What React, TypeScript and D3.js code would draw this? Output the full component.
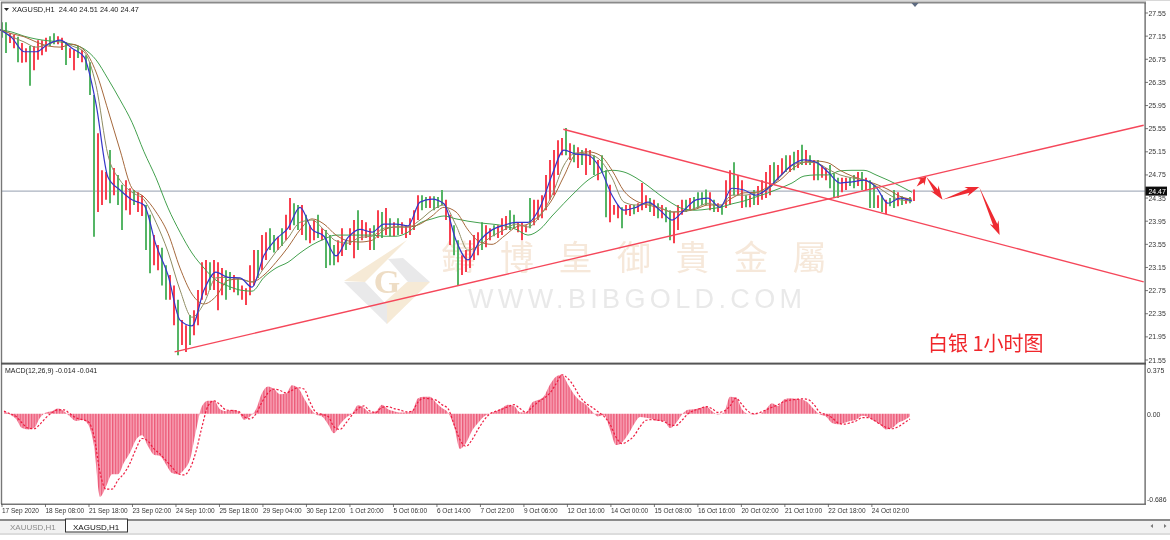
import React from "react";
import * as d3 from "d3";

const W = 1170, H = 540;
const symbolLine = "XAGUSD,H1  24.40 24.51 24.40 24.47";
const macdLabel = "MACD(12,26,9) -0.014 -0.041";
const lastPrice = 24.47;
const priceTicks = ["27.55","27.15","26.75","26.35","25.95","25.55","25.15","24.75","24.35","23.95","23.55","23.15","22.75","22.35","21.95","21.55"];
const macdTicks = [0.375, 0, -0.686];
const timeLabels = ["17 Sep 2020","18 Sep 08:00","21 Sep 18:00","23 Sep 02:00","24 Sep 10:00","25 Sep 18:00","29 Sep 04:00","30 Sep 12:00","1 Oct 20:00","5 Oct 06:00","6 Oct 14:00","7 Oct 22:00","9 Oct 06:00","12 Oct 16:00","14 Oct 00:00","15 Oct 08:00","16 Oct 16:00","20 Oct 02:00","21 Oct 10:00","22 Oct 18:00","24 Oct 02:00"];
const barsPerLabel = 32;
const lastBar = 671;

const highs = [27.39,27.39,27.20,27.17,27.14,27.03,26.94,26.98,26.98,27.08,27.08,27.12,27.15,27.20,27.15,27.12,27.05,26.94,26.91,26.98,26.91,26.82,26.70,26.13,25.47,24.83,24.80,25.18,24.87,24.75,24.58,24.66,24.52,24.49,24.45,24.40,24.23,24.06,23.71,23.54,23.49,23.19,23.02,22.84,22.59,22.24,22.15,22.33,22.41,22.76,23.24,23.28,23.24,23.28,23.24,23.14,23.10,23.07,23.02,22.97,22.84,22.79,23.19,23.45,23.45,23.71,23.76,23.83,23.71,23.68,23.83,24.06,24.35,24.26,24.23,24.23,24.06,23.88,23.97,24.06,23.83,23.80,23.71,23.54,23.62,23.83,23.62,23.83,23.97,24.14,23.97,23.93,23.83,23.88,24.14,24.11,24.18,24.00,23.93,24.00,23.93,23.88,24.00,24.14,24.40,24.40,24.37,24.38,24.38,24.37,24.49,24.32,24.06,23.88,23.62,23.36,23.45,23.62,23.71,23.76,23.93,23.88,23.83,23.88,23.88,24.00,24.04,24.14,24.06,23.93,23.93,23.88,24.35,24.32,24.32,24.40,24.75,25.01,25.18,25.35,25.39,25.56,25.30,25.27,25.23,25.18,25.21,25.18,25.09,25.01,25.09,24.83,24.58,24.23,24.23,24.19,24.23,24.23,24.23,24.26,24.61,24.40,24.35,24.32,24.26,24.23,24.19,24.14,24.11,24.23,24.32,24.32,24.35,24.37,24.45,24.45,24.50,24.45,24.32,24.26,24.23,24.66,24.83,24.97,24.75,24.66,24.40,24.40,24.49,24.56,24.66,24.80,24.92,24.97,24.92,25.04,25.09,25.09,25.15,25.18,25.27,25.18,25.09,25.01,25.01,24.92,24.87,24.92,24.78,24.70,24.70,24.70,24.70,24.75,24.80,24.80,24.70,24.66,24.58,24.40,24.40,24.32,24.35,24.49,24.45,24.38,24.35,24.37,24.50];
const lows = [27.12,26.86,27.03,26.94,26.70,26.69,26.70,26.29,26.56,26.74,26.82,26.88,26.98,27.01,27.01,26.91,26.65,26.77,26.56,26.77,26.70,26.56,26.13,23.68,24.11,24.23,24.32,24.26,24.40,24.23,23.80,24.14,24.06,24.23,24.11,24.04,23.45,23.05,23.19,23.10,22.84,22.59,22.59,22.15,21.63,21.81,21.69,21.81,21.98,22.15,22.59,22.67,22.76,22.76,22.41,22.67,22.59,22.76,22.72,22.67,22.59,22.50,22.67,22.84,22.97,23.10,23.28,23.45,23.41,23.45,23.52,23.62,23.80,23.88,23.80,23.71,23.62,23.57,23.62,23.66,23.62,23.14,23.19,23.19,23.24,23.35,23.45,23.54,23.31,23.45,23.62,23.66,23.45,23.45,23.66,23.66,23.71,23.69,23.69,23.71,23.73,23.66,23.71,23.80,23.97,24.14,24.18,24.18,24.14,24.18,24.23,23.97,23.54,23.36,22.84,23.02,23.07,23.14,23.28,23.36,23.45,23.50,23.62,23.69,23.66,23.71,23.80,23.80,23.83,23.76,23.62,23.76,23.83,23.88,23.97,24.00,24.14,24.32,24.40,24.75,25.09,25.09,25.01,24.97,24.87,24.92,24.75,24.92,24.75,24.66,24.80,24.02,23.93,24.06,24.00,23.83,24.06,24.04,24.07,24.11,24.14,24.18,24.11,24.04,24.00,24.00,23.93,23.62,23.57,23.80,24.06,24.11,24.14,24.14,24.18,24.23,24.23,24.14,24.11,24.11,24.06,24.18,24.23,24.40,24.40,24.18,24.19,24.19,24.23,24.23,24.32,24.35,24.40,24.58,24.66,24.75,24.80,24.80,24.83,24.87,24.92,24.92,24.92,24.66,24.66,24.70,24.66,24.52,24.35,24.35,24.45,24.49,24.56,24.52,24.56,24.49,24.49,24.18,24.18,24.18,24.11,24.07,24.21,24.18,24.21,24.23,24.25,24.26,24.30];
const barColors = "ggrrgrrgrr" + "rrggrrgrrg" + "rgggrrrgrg" + "grrgrrggrr" + "ggrrgrrgrr" + "rrgrrrggrg" + "rrrrgrrggr" + "grrggrgrrg" + "rgggrrgrrg" + "rrrgrgrgrg" + "rrrrrggrgg" + "grrggrrrrr" + "grrgrrrggr" + "rrgrrrrrrr" + "rgrgrgrrgr" + "ggrrrgrrgr" + "rrgrgrggrr" + "rgrggggrgr" + "grrgrrgrgr" + "rrrgrrgrgr" + "grgrgrrggg" + "rrggrgrggr" + "grggrgrgr";

const maFast = [27.26,27.12,26.88,26.88,27.01,27.08,26.94,26.79,25.98,24.71,24.49,24.32,24.23,23.54,23.02,22.24,22.14,22.76,23.07,22.98,22.97,22.81,23.36,23.64,23.83,24.19,23.81,23.69,23.35,23.67,23.81,23.76,23.90,23.90,23.87,24.28,24.33,24.25,23.62,23.28,23.62,23.80,23.88,23.93,23.93,24.19,24.75,25.18,25.11,25.09,24.87,24.40,24.14,24.19,24.28,24.14,23.97,24.14,24.32,24.35,24.19,24.52,24.49,24.40,24.52,24.73,24.92,25.01,24.97,24.80,24.61,24.63,24.66,24.54,24.26,24.35,24.30];
const maMid = [27.26,27.14,27.05,26.96,27.01,27.07,26.98,26.88,26.30,25.09,24.66,24.45,24.32,23.93,23.42,22.76,22.29,22.53,22.97,22.98,22.95,22.90,23.14,23.42,23.66,23.93,23.97,23.80,23.61,23.57,23.67,23.69,23.83,23.85,23.85,23.97,24.14,24.23,23.88,23.45,23.54,23.69,23.80,23.90,23.85,24.04,24.40,24.92,25.13,25.11,25.01,24.70,24.28,24.23,24.25,24.18,24.11,24.12,24.18,24.26,24.21,24.40,24.40,24.44,24.50,24.71,24.91,24.97,24.96,24.85,24.75,24.70,24.66,24.56,24.42,24.32,24.30];
const maSlow = [27.26,27.19,27.14,27.05,26.98,26.96,27.01,26.91,26.53,25.87,25.18,24.52,24.37,24.11,23.74,23.14,22.69,22.52,22.65,22.93,22.95,22.90,23.02,23.24,23.50,23.80,23.99,23.90,23.71,23.61,23.59,23.62,23.80,23.85,23.85,23.90,24.04,24.19,24.11,23.80,23.59,23.55,23.69,23.85,23.90,24.06,24.32,24.73,25.11,25.15,25.09,24.83,24.47,24.30,24.23,24.18,24.11,24.12,24.16,24.23,24.23,24.35,24.44,24.45,24.54,24.66,24.85,24.97,24.99,24.96,24.83,24.73,24.66,24.59,24.50,24.38,24.33];
const maLong = [27.26,27.22,27.15,27.10,27.07,27.05,27.01,26.93,26.74,26.41,26.05,25.66,25.15,24.70,24.18,23.76,23.40,23.14,22.93,22.83,22.76,22.74,22.98,23.14,23.24,23.40,23.54,23.64,23.71,23.71,23.71,23.71,23.69,23.69,23.76,23.92,23.99,24.04,23.99,23.95,23.92,23.90,23.87,23.81,23.71,23.81,24.04,24.26,24.47,24.66,24.78,24.83,24.80,24.70,24.56,24.40,24.26,24.16,24.14,24.16,24.19,24.25,24.30,24.37,24.44,24.52,24.61,24.73,24.75,24.75,24.82,24.83,24.83,24.75,24.66,24.56,24.45];

const macdHist = [0.02,-0.005,-0.04,-0.11,-0.12,-0.11,-0.03,0.01,0.02,0.04,0.02,-0.02,-0.055,-0.045,-0.08,-0.25,-0.64,-0.56,-0.465,-0.465,-0.375,-0.30,-0.2,-0.165,-0.25,-0.315,-0.325,-0.39,-0.455,-0.465,-0.43,-0.35,-0.13,0.06,0.1,0.1,0.035,0.02,0.03,0.02,-0.045,-0.02,0.035,0.16,0.21,0.19,0.15,0.155,0.22,0.2,0.12,0.045,-0.005,-0.02,-0.08,-0.15,-0.08,-0.03,0,0.065,0.045,0.01,0.02,0.07,0.035,0.02,0.01,0.01,0.02,0.12,0.13,0.13,0.085,0.045,0.01,-0.095,-0.27,-0.225,-0.13,-0.07,-0.02,0,0.02,0.045,0.07,0.06,0.012,0.01,0.085,0.105,0.135,0.225,0.285,0.30,0.225,0.15,0.1,0.07,0.02,-0.02,-0.01,-0.12,-0.24,-0.22,-0.16,-0.08,-0.025,-0.03,-0.04,-0.055,-0.055,-0.11,-0.07,-0.005,0.03,0.035,0.045,0.055,0.02,-0.005,0.01,0.13,0.125,0.035,0,-0.005,0,0.035,0.08,0.06,0.11,0.12,0.115,0.11,0.085,0.035,-0.005,-0.02,-0.07,-0.08,-0.07,-0.055,-0.045,-0.015,-0.025,-0.055,-0.08,-0.12,-0.11,-0.07,-0.05,-0.02];
const macdSignal = [0.02,0,-0.02,-0.07,-0.11,-0.115,-0.08,-0.03,0.01,0.03,0.03,0,-0.03,-0.045,-0.06,-0.17,-0.45,-0.58,-0.58,-0.51,-0.46,-0.38,-0.27,-0.19,-0.21,-0.27,-0.31,-0.36,-0.41,-0.46,-0.47,-0.42,-0.29,-0.1,0.06,0.1,0.07,0.03,0.025,0.02,-0.02,-0.04,0,0.09,0.16,0.19,0.18,0.16,0.18,0.2,0.19,0.09,0.01,-0.005,-0.02,-0.1,-0.12,-0.07,-0.01,0.04,0.06,0.02,0.01,0.05,0.055,0.04,0.03,0.015,0.02,0.09,0.12,0.115,0.105,0.07,0.04,-0.08,-0.2,-0.25,-0.2,-0.12,-0.05,0,0.02,0.035,0.055,0.07,0.04,0.01,0.05,0.09,0.12,0.16,0.23,0.3,0.27,0.21,0.13,0.08,0.05,0.015,-0.02,-0.08,-0.18,-0.23,-0.21,-0.17,-0.1,-0.05,-0.045,-0.05,-0.06,-0.085,-0.09,-0.05,0,0.025,0.04,0.055,0.04,0.01,0.02,0.06,0.12,0.07,0.02,0,0.01,0.03,0.05,0.07,0.095,0.105,0.11,0.115,0.11,0.07,0.01,-0.005,-0.03,-0.07,-0.08,-0.07,-0.055,-0.03,-0.03,-0.05,-0.08,-0.105,-0.115,-0.1,-0.07,-0.04];

const risingBars = [127, 840];
const risingPrices = [21.69, 25.61];
const fallingBars = [413, 840];
const fallingPrices = [25.54, 22.90];
const forecastBars = [673, 680, 692, 719, 734];
const forecastPrices = [24.55, 24.72, 24.32, 24.54, 23.71];

const y = d3.scaleLinear().domain([21.55, 27.55]).range([360, 13]);
const yM = d3.scaleLinear().domain([-0.686, 0.375]).range([503, 365]);
const xBar = d3.scaleLinear().domain([0, lastBar]).range([2, 914]);
const xCandle = d3.scaleLinear().domain([0, highs.length - 1]).range([xBar(0), xBar(lastBar)]);
const xMa = d3.scaleLinear().domain([0, maFast.length - 1]).range([0, 912]);
const xMacd = d3.scaleLinear().domain([0, macdHist.length - 1]).range([4, 910]);

const maPath = (vals: number[]) =>
  d3.line<number>().x((_, i) => xMa(i)).y((d) => y(d)).curve(d3.curveMonotoneX)(vals) as string;
const histArea = d3.area<number>().x((_, i) => xMacd(i)).y0(yM(0)).y1((d) => yM(d)).curve(d3.curveMonotoneX)(macdHist) as string;
const signalLine = d3.line<number>().x((_, i) => xMacd(i)).y((d) => yM(d)).curve(d3.curveMonotoneX)(macdSignal) as string;

function arrowPoints(x0: number, y0: number, x1: number, y1: number) {
  const dx = x1 - x0, dy = y1 - y0, L = Math.hypot(dx, dy);
  const ux = dx / L, uy = dy / L, nx = -uy, ny = ux;
  const head = Math.min(14, L * 0.55);
  const at = (t: number, w: number) => [x1 - ux * t + nx * w, y1 - uy * t + ny * w].map((v) => v.toFixed(1)).join(",");
  return [[x0.toFixed(1), y0.toFixed(1)].join(","), at(head * 0.8, 2.2), at(head, 4.8), `${x1},${y1}`, at(head, -4.8), at(head * 0.8, -2.2)].join(" ");
}

const sans = "'Liberation Sans', Arial, sans-serif";
const cjkWater = Array.from("鑄博皇御貴金屬");
const red = "#f5475a";

export default function App() {
  return (
    <svg width={W} height={H} viewBox={`0 0 ${W} ${H}`} style={{ position: "fixed", left: 0, top: 0, background: "#fff" }} fontFamily={sans}>
      <defs>
        <pattern id="stripes" width={2.8} height={10} patternUnits="userSpaceOnUse">
          <rect width={2.8} height={10} fill="#f8a9bb" />
          <rect width={1.4} height={10} fill="#ec5a78" />
        </pattern>
        <clipPath id="mainClip"><rect x={2} y={4} width={1143} height={358} /></clipPath>
        <filter id="soft" x="0" y="0" width="100%" height="100%"><feGaussianBlur stdDeviation={0.38} /></filter>
      </defs>
      <rect width={W} height={H} fill="#fff" />
      <g filter="url(#soft)">

      {/* watermark */}
      <g>
        <polygon points="344,281 407,240 388,259 365,282" fill="#f6ead6" />
        <polygon points="388,259 403,258 430,282 408,282" fill="#e9e9ea" />
        <polygon points="407,282 430,282 387,324 378,308" fill="#f6ead6" />
        <polygon points="344,282 365,282 387,305 387,324" fill="#e9e9ea" />
        <text x={387} y={293} textAnchor="middle" fontFamily="'Liberation Serif', serif" fontWeight="bold" fontSize={34} fill="#eeddc5">G</text>
        {cjkWater.map((c, i) => (
          <text key={i} x={458.5 + i * 58.5} y={270} textAnchor="middle" fontFamily="'Noto Sans CJK TC'" fontSize={34} fill="#f6e8da">{c}</text>
        ))}
        <text x={468} y={308} fontSize={27} fill="#e9e9e9" textLength={334} lengthAdjust="spacing">WWW.BIBGOLD.COM</text>
      </g>

      {/* price line */}
      <line x1={2} x2={1145} y1={y(lastPrice)} y2={y(lastPrice)} stroke="#aab2bf" strokeWidth={1.4} />

      {/* candles */}
      <g strokeWidth={2}>
        {highs.map((h, i) => (
          <line key={i} x1={xCandle(i)} x2={xCandle(i)} y1={y(h)} y2={y(lows[i])} stroke={barColors[i] === "r" ? "#f83f50" : "#55b565"} />
        ))}
      </g>

      {/* moving averages */}
      <g fill="none" strokeWidth={1}>
        <path d={maPath(maLong)} stroke="#43a04e" />
        <path d={maPath(maSlow)} stroke="#a5683c" />
        <path d={maPath(maMid)} stroke="#8f8c62" />
        <path d={maPath(maFast)} stroke="#3536c8" strokeWidth={1.2} />
      </g>

      {/* trend lines and forecast arrows */}
      <g clipPath="url(#mainClip)">
        <line x1={xBar(risingBars[0])} y1={y(risingPrices[0])} x2={xBar(risingBars[1])} y2={y(risingPrices[1])} stroke={red} strokeWidth={1.4} />
        <line x1={xBar(fallingBars[0])} y1={y(fallingPrices[0])} x2={xBar(fallingBars[1])} y2={y(fallingPrices[1])} stroke={red} strokeWidth={1.4} />
        {forecastBars.slice(1).map((b, i) => (
          <polygon key={i} fill="#ee2a30" points={arrowPoints(xBar(forecastBars[i]), y(forecastPrices[i]), xBar(b), y(forecastPrices[i + 1]))} />
        ))}
      </g>

      <text x={928} y={350.5} fontFamily="'Noto Sans CJK SC'" fontSize={20} fill="#f0262c" xmlSpace="preserve">白银 1小时图</text>

      {/* frame */}
      <rect x={0} y={0} width={1170} height={1} fill="#d8d8d8" />
      <rect x={1} y={1.5} width={1145} height={2} fill="#8a8a8a" />
      <rect x={0.8} y={2} width={1.4} height={502} fill="#777" />
      <rect x={1144.5} y={3} width={1.2} height={501} fill="#555" />
      <rect x={1} y={362.6} width={1145} height={2} fill="#555" />
      <rect x={1} y={503.6} width={1145} height={1.2} fill="#555" />
      <polygon points="911.5,3 918.5,3 915,7" fill="#5d6b80" />
      <polygon points="4,8 9,8 6.5,11" fill="#222" />
      <text x={12} y={11.5} fontSize={7.4} fill="#222" xmlSpace="preserve">{symbolLine}</text>

      {/* right axis */}
      <g fontSize={6.9} fill="#333">
        {priceTicks.map((t) => (
          <g key={t}>
            <line x1={1145} x2={1148} y1={y(+t)} y2={y(+t)} stroke="#555" strokeWidth={0.8} />
            <text x={1148.5} y={y(+t) + 2.5}>{t}</text>
          </g>
        ))}
      </g>
      <rect x={1145.5} y={y(lastPrice) - 4.5} width={21.5} height={9} fill="#111" />
      <text x={1148.5} y={y(lastPrice) + 2.5} fontSize={6.9} fill="#fff">{lastPrice.toFixed(2)}</text>

      {/* MACD pane */}
      <path d={histArea} fill="url(#stripes)" />
      <path d={signalLine} fill="none" stroke="#ee1c40" strokeWidth={1.2} strokeDasharray="2.2 1.8" />
      <text x={5} y={373} fontSize={7} fill="#222">{macdLabel}</text>
      <g fontSize={6.9} fill="#333">
        {macdTicks.map((t, i) => (
          <text key={t} x={1147} y={[372.5, 416.5, 501.5][i]}>{t === 0 ? "0.00" : t.toFixed(3)}</text>
        ))}
      </g>

      {/* time axis */}
      <g fontSize={6.5} fill="#333">
        {timeLabels.map((t, i) => {
          const x = xBar(i * barsPerLabel);
          return (
            <g key={t}>
              <line x1={x} x2={x} y1={504} y2={507} stroke="#555" strokeWidth={0.8} />
              <text x={x} y={512.5}>{t}</text>
            </g>
          );
        })}
      </g>

      {/* tab strip */}
      <rect x={0} y={519} width={1170} height={2} fill="#8a8a8a" />
      <rect x={0} y={521} width={1170} height={12} fill="#f1f1f1" />
      <rect x={0} y={533} width={1170} height={2} fill="#dcdcdc" />
      <rect x={65.5} y={519} width={62} height={13} fill="#fff" stroke="#333" strokeWidth={1} />
      <text x={10} y={530} fontSize={8} fill="#8c8c8c">XAUUSD,H1</text>
      <text x={73} y={530} fontSize={8} fill="#111">XAGUSD,H1</text>
      <polygon points="1153,524 1153,528 1150.5,526" fill="#777" />
      <polygon points="1164,524 1164,528 1166.5,526" fill="#777" />
      </g>
    </svg>
  );
}
